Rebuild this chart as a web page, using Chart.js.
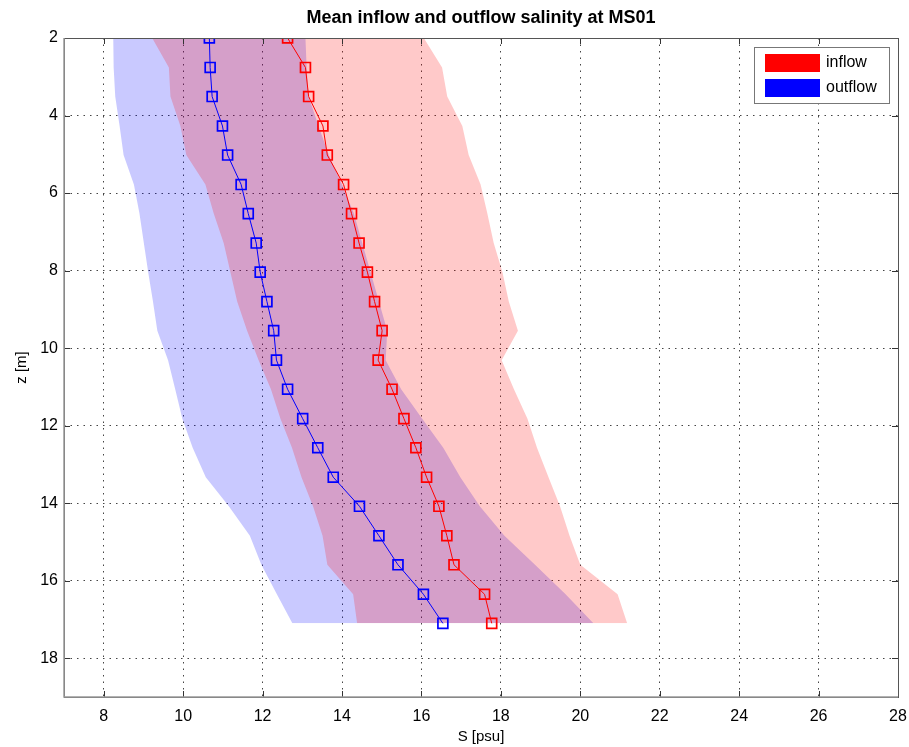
<!DOCTYPE html>
<html>
<head>
<meta charset="utf-8">
<script src="https://cdn.jsdelivr.net/npm/chart.js@4/dist/chart.umd.min.js"></script>
<style>
  body { margin: 0; background: #fff; }
  canvas { display: block; }
</style>
</head>
<body>
<canvas id="myChart" width="909" height="747"></canvas>
<script>
// depth levels z [m]
const depth = [2.00, 2.76, 3.51, 4.27, 5.02, 5.78, 6.53, 7.29, 8.04, 8.80, 9.55,
  10.31, 11.06, 11.82, 12.57, 13.33, 14.08, 14.84, 15.59, 16.35, 17.10];

// mean salinity S [psu]
const inflowMean = [12.63, 13.08, 13.16, 13.52, 13.63, 14.04, 14.24, 14.43, 14.64, 14.82, 15.01,
  14.91, 15.26, 15.56, 15.86, 16.13, 16.44, 16.64, 16.82, 17.59, 17.77];
const outflowMean = [10.66, 10.68, 10.73, 10.99, 11.12, 11.46, 11.64, 11.84, 11.94, 12.11, 12.28,
  12.35, 12.63, 13.01, 13.39, 13.78, 14.44, 14.93, 15.41, 16.05, 16.54];

// shaded range (low / high edge)
const inflowLow = [9.22, 9.64, 9.68, 9.93, 10.08, 10.56, 10.77, 11.02, 11.19, 11.36, 11.61,
  11.90, 12.21, 12.45, 12.74, 12.98, 13.27, 13.51, 13.63, 14.28, 14.38];
const inflowHigh = [16.06, 16.52, 16.65, 17.03, 17.19, 17.49, 17.66, 17.82, 18.04, 18.20, 18.43,
  18.02, 18.33, 18.67, 18.91, 19.20, 19.49, 19.73, 20.00, 20.94, 21.18];
const outflowLow = [8.24, 8.25, 8.29, 8.40, 8.50, 8.76, 8.90, 9.01, 9.12, 9.24, 9.35,
  9.62, 9.80, 9.98, 10.24, 10.57, 11.15, 11.68, 11.97, 12.36, 12.75];
const outflowHigh = [13.08, 13.11, 13.16, 13.41, 13.67, 14.00, 14.30, 14.51, 14.72, 14.93, 15.14,
  15.10, 15.49, 16.02, 16.55, 16.98, 17.47, 18.09, 18.86, 19.63, 20.33];

const xTicks = [8, 10, 12, 14, 16, 18, 20, 22, 24, 26, 28];
const yTicks = [2, 4, 6, 8, 10, 12, 14, 16, 18];
const seriesNames = ['inflow', 'outflow'];
const seriesColors = ['#ff0000', '#0000ff'];

const FONT = 'Liberation Sans, Arial, Helvetica, sans-serif';

function profile(values) {
  return values.map((v, i) => ({x: v, y: depth[i]}));
}

function edge(values, fillColor, fill) {
  return {
    data: profile(values),
    borderColor: 'rgba(0,0,0,0)',
    borderWidth: 0,
    pointRadius: 0,
    backgroundColor: fillColor,
    fill: fill
  };
}

function meanLine(label, values, color) {
  return {
    label: label,
    data: profile(values),
    borderColor: color,
    borderWidth: 1,
    pointStyle: 'rect',
    pointRadius: 7,
    pointBorderWidth: 1.7,
    pointBorderColor: color,
    pointBackgroundColor: 'rgba(0,0,0,0)',
    fill: false
  };
}

// matlab style box with inward ticks
const axesBox = {
  id: 'axesBox',
  afterDraw(chart) {
    const {ctx, chartArea: a, scales} = chart;
    ctx.save();
    ctx.lineWidth = 1;
    ctx.strokeStyle = '#333';
    ctx.beginPath();
    xTicks.forEach(v => {
      const px = Math.round(scales.x.getPixelForValue(v)) + 0.5;
      ctx.moveTo(px, a.bottom); ctx.lineTo(px, a.bottom - 6);
      ctx.moveTo(px, a.top); ctx.lineTo(px, a.top + 6);
    });
    yTicks.forEach(v => {
      const py = Math.round(scales.y.getPixelForValue(v)) + 0.5;
      ctx.moveTo(a.left, py); ctx.lineTo(a.left + 6, py);
      ctx.moveTo(a.right, py); ctx.lineTo(a.right - 6, py);
    });
    ctx.stroke();
    ctx.strokeStyle = '#555';
    ctx.strokeRect(Math.round(a.left) + 0.5, Math.round(a.top) + 0.5,
      Math.round(a.right - a.left), Math.round(a.bottom - a.top));
    ctx.strokeStyle = '#999';
    ctx.lineWidth = 1.5;
    ctx.beginPath();
    ctx.moveTo(a.left, a.top); ctx.lineTo(a.left, a.bottom); ctx.lineTo(a.right, a.bottom);
    ctx.stroke();
    ctx.restore();
  }
};

const boxLegend = {
  id: 'boxLegend',
  afterDraw(chart) {
    const {ctx, chartArea: a} = chart;
    const w = 135, h = 56;
    const x0 = a.right - 9 - w, y0 = a.top + 9;
    ctx.save();
    ctx.fillStyle = '#fff';
    ctx.fillRect(x0, y0, w, h);
    ctx.strokeStyle = '#777';
    ctx.lineWidth = 1;
    ctx.strokeRect(Math.round(x0) + 0.5, Math.round(y0) + 0.5, w, h);
    ctx.font = '16px ' + FONT;
    ctx.textBaseline = 'middle';
    seriesNames.forEach((name, i) => {
      const cy = y0 + 16 + i * 25;
      ctx.fillStyle = seriesColors[i];
      ctx.fillRect(x0 + 11, cy - 9, 55, 18);
      ctx.fillStyle = '#000';
      ctx.fillText(name, x0 + 72, cy);
    });
    ctx.restore();
  }
};

const ctx = document.getElementById('myChart').getContext('2d');

const myChart = new Chart(ctx, {
  type: 'line',
  data: {
    datasets: [
      meanLine(seriesNames[0], inflowMean, seriesColors[0]),
      meanLine(seriesNames[1], outflowMean, seriesColors[1]),
      edge(inflowLow, 'rgba(255,0,0,0.21)', '+1'),
      edge(inflowHigh, 'rgba(255,0,0,0.21)', false),
      edge(outflowLow, 'rgba(0,0,255,0.21)', '+1'),
      edge(outflowHigh, 'rgba(0,0,255,0.21)', false)
    ]
  },
  options: {
    indexAxis: 'y',
    responsive: false,
    animation: false,
    layout: {padding: {left: 0, right: 11, top: 0, bottom: 0}},
    plugins: {
      legend: {display: false},
      tooltip: {enabled: false},
      title: {
        display: true,
        text: 'Mean inflow and outflow salinity at MS01',
        fullSize: false,
        color: '#000',
        font: {family: FONT, size: 18, weight: 'bold'},
        padding: {top: 7, bottom: 9.4}
      }
    },
    scales: {
      x: {
        type: 'linear',
        position: 'bottom',
        min: 7,
        max: 28,
        afterBuildTicks: s => { s.ticks = xTicks.map(v => ({value: v})); },
        afterFit: s => { s.height = 50; s.paddingLeft = 0; s.paddingRight = 0; },
        grid: {color: '#444', lineWidth: 1, drawTicks: false},
        border: {display: false, dash: [1.5, 5]},
        ticks: {color: '#000', font: {family: FONT, size: 16}, padding: 10, maxRotation: 0, autoSkip: false},
        title: {display: true, text: 'S [psu]', color: '#000', font: {family: FONT, size: 15}, padding: {top: 0, bottom: 1}}
      },
      y: {
        type: 'linear',
        position: 'left',
        reverse: true,
        min: 2,
        max: 19,
        afterBuildTicks: s => { s.ticks = yTicks.map(v => ({value: v})); },
        afterFit: s => { s.width = 64; s.paddingTop = 0; s.paddingBottom = 0; },
        grid: {color: '#444', lineWidth: 1, drawTicks: false},
        border: {display: false, dash: [1.5, 5]},
        ticks: {color: '#000', font: {family: FONT, size: 16}, padding: 6, autoSkip: false},
        title: {display: true, text: 'z [m]', color: '#000', font: {family: FONT, size: 15}, padding: {top: 13, bottom: 0}}
      }
    }
  },
  plugins: [axesBox, boxLegend]
});
</script>
</body>
</html>
